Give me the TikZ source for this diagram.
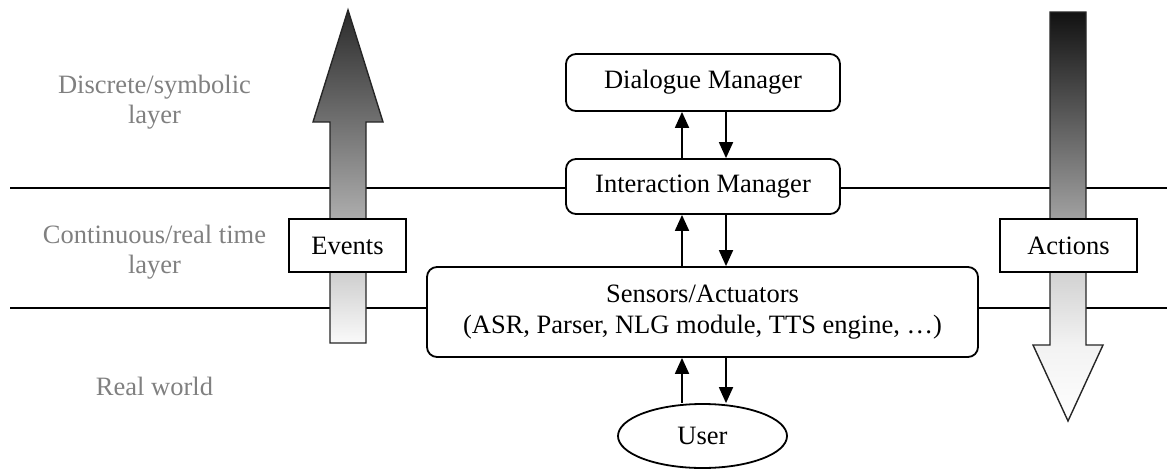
\documentclass[tikz,border=0pt]{standalone}
\usepackage{fontspec}
\setmainfont{Liberation Serif}
\usetikzlibrary{arrows.meta,shapes.geometric}

% downward arrow: dark at the top, fading to white towards the head
\pgfdeclareverticalshading{actionshade}{100bp}{%
  color(0bp)=(white); color(25bp)=(white); color(34.3bp)=(black!5);
  color(43.2bp)=(black!18); color(49.7bp)=(black!37);
  color(75bp)=(black!93); color(100bp)=(black!93)}

\begin{document}
\begin{tikzpicture}[x=1pt,y=-1pt,
  font=\fontsize{26.5}{30}\selectfont,
  line width=1.8pt,
  rbox/.style={draw, rounded corners=10pt, fill=white, align=center, inner sep=0pt},
  sbox/.style={draw, fill=white, inner sep=0pt},
  layerlbl/.style={text=black!50, align=center, inner sep=0pt},
  flow/.style={-{Triangle[length=16pt,width=14pt]}, line width=1.8pt},
  bigarrow/.style={draw=black!85, line width=1.4pt}
]
\useasboundingbox (0,0) rectangle (1167,469);

% layer separators
\coordinate (sepAl) at (10,188);  \coordinate (sepAr) at (1167,188);
\coordinate (sepBl) at (10,308);  \coordinate (sepBr) at (1167,308);
\draw (sepAl) -- (sepAr);
\draw (sepBl) -- (sepBr);

% layer labels (base anchor sits on the last line)
\node[layerlbl, anchor=base] (lblSym)  at (154.5,123) {Discrete/symbolic\\layer};
\node[layerlbl, anchor=base] (lblCont) at (154.5,273) {Continuous/real time\\layer};
\node[layerlbl, anchor=base] (lblReal) at (154.5,395) {Real world};

% big upward arrow (events)
\shade[bigarrow, top color=black!83, bottom color=black!2]
  (330,343) -- (330,122) -- (313,122) -- (348,10) -- (383,122)
  -- (366,122) -- (366,343) -- cycle;

% big downward arrow (actions)
\shade[bigarrow, shading=actionshade]
  (1050,12) -- (1086,12) -- (1086,345) -- (1103,345) -- (1068,421)
  -- (1033,345) -- (1050,345) -- cycle;

% boxes
\node[sbox, minimum width=117pt, minimum height=53pt] (events)  at (347.5,245.5)  {Events};
\node[sbox, minimum width=137pt, minimum height=53pt] (actions) at (1068.5,245.5) {Actions};

\node[rbox, minimum width=274pt, minimum height=57pt] (dm) at (703,82.5)  {Dialogue Manager};
\node[rbox, minimum width=274pt, minimum height=55pt] (im) at (703,186.5) {Interaction Manager};
\node[rbox, minimum width=551pt, minimum height=90pt] (sa) at (702.5,312)
  {Sensors/Actuators\\[1pt](ASR, Parser, NLG module, TTS engine, \ldots)};
\node[draw, ellipse, fill=white, inner sep=0pt, minimum width=169pt, minimum height=64pt]
  (user) at (702.5,436) {User};

% message flow
\coordinate (up) at (682,0);
\coordinate (dn) at (726,0);
\draw[flow] (up |- im.north) -- (up |- dm.south);
\draw[flow] (dn |- dm.south) -- (dn |- im.north);
\draw[flow] (up |- sa.north) -- (up |- im.south);
\draw[flow] (dn |- im.south) -- (dn |- sa.north);
\draw[flow] (up |- user.north) -- (up |- sa.south);
\draw[flow] (dn |- sa.south) -- (dn |- user.north);
\end{tikzpicture}
\end{document}
